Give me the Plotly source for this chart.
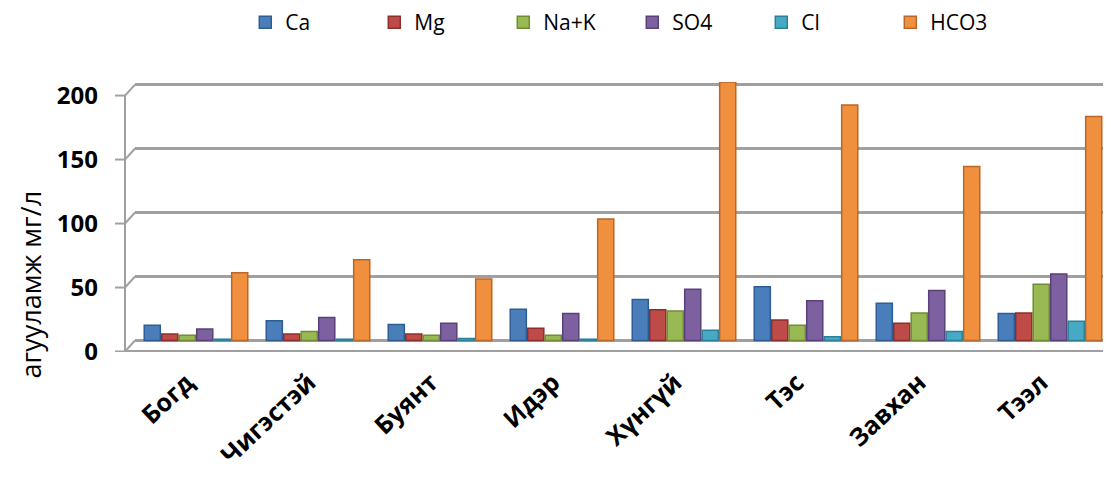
import plotly.graph_objects as go

# --- данные ---
stations = ['Богд', 'Чигэстэй', 'Буянт', 'Идэр', 'Хүнгүй', 'Тэс', 'Завхан', 'Тээл']
ca = [12, 15.5, 12.5, 24.5, 32, 42, 29, 21]
mg = [5, 5, 5, 9.5, 24, 16, 13.5, 21.5]
na_k = [4, 7, 4, 4, 23, 12, 21.5, 44]
so4 = [9, 18, 13.5, 21, 40, 31, 39, 52]
cl = [1, 1, 1.5, 1, 8, 3, 7, 15]
hco3 = [53, 63, 48, 95, 202, 184, 136, 175]
y_ticks = [0, 50, 100, 150, 200]

series = [
    ('Ca', ca, '#4A7EBB', '#2F5D93'),
    ('Mg', mg, '#BE4B48', '#8E2E2B'),
    ('Na+K', na_k, '#98B954', '#6F8D35'),
    ('SO4', so4, '#7D60A0', '#5A4278'),
    ('Cl', cl, '#46AAC5', '#2B8199'),
    ('HCO3', hco3, '#F0903F', '#B9662A'),
]

fig = go.Figure()
for name, vals, color, edge in series:
    fig.add_trace(go.Bar(
        x=stations, y=vals, name=name,
        marker=dict(color=color, line=dict(color=edge, width=1.5)),
    ))

grid_col = '#A0A0A0'
d = 8.6  # сдвиг передней грани (псевдо-3D), в единицах оси
# передняя вертикальная ось
fig.add_shape(type='line', xref='paper', yref='y',
              xsizemode='pixel', xanchor=0, x0=-10, x1=-10,
              y0=-d, y1=200 - d, line=dict(color=grid_col, width=2))
for v in y_ticks:
    # скос от передней оси к задней стенке
    fig.add_shape(type='line', xref='paper', yref='y',
                  xsizemode='pixel', xanchor=0, x0=-10, x1=0,
                  y0=v - d, y1=v, line=dict(color=grid_col, width=2))
    # засечка
    fig.add_shape(type='line', xref='paper', yref='y',
                  xsizemode='pixel', xanchor=0, x0=-20, x1=-10,
                  y0=v - d, y1=v - d, line=dict(color=grid_col, width=2))
# передний край пола
fig.add_shape(type='line', xref='paper', yref='y',
              xsizemode='pixel', xanchor=0, x0=-10, x1=968,
              y0=-d, y1=-d, line=dict(color=grid_col, width=3))
fig.add_shape(type='line', xref='paper', yref='y',
              xsizemode='pixel', xanchor=0, x0=968, x1=976,
              y0=-d, y1=-2, line=dict(color=grid_col, width=2))

fig.add_annotation(text='агууламж мг/л', xref='paper', yref='paper',
                   x=0, xshift=-105, y=0.25, yanchor='middle', xanchor='center',
                   textangle=-90, showarrow=False,
                   font=dict(size=27, family='Open Sans'))

# страница добавляет отступ 8px, поэтому фигура чуть меньше окна
fig.update_layout(
    width=1103, height=478,
    paper_bgcolor='white', plot_bgcolor='white',
    barmode='group', bargap=0.14, bargroupgap=0.08,
    margin=dict(l=127, r=0, t=74, b=134, autoexpand=False),
    font=dict(family='Liberation Sans, Arial', color='black'),
    legend=dict(
        orientation='h', x=0.113, xanchor='left', y=1.22, yanchor='middle',
        font=dict(family='Open Sans', size=21),
        entrywidth=84, traceorder='normal',
    ),
    showlegend=True,
)

fig.update_yaxes(
    range=[-9, 202], tickvals=y_ticks,
    showgrid=True, gridcolor=grid_col, gridwidth=3,
    showline=False, ticks='',
    ticklabelshift=11, ticklabelstandoff=36,
    tickfont=dict(size=24, family='Open Sans', weight='bold'),
    zeroline=False,
)
fig.update_xaxes(
    showline=False, tickangle=-43, ticks='',
    ticklabelstandoff=10, ticklabelshift=-9,
    tickfont=dict(size=25, family='Open Sans', weight='bold'),
)

fig.write_html('out.html')
